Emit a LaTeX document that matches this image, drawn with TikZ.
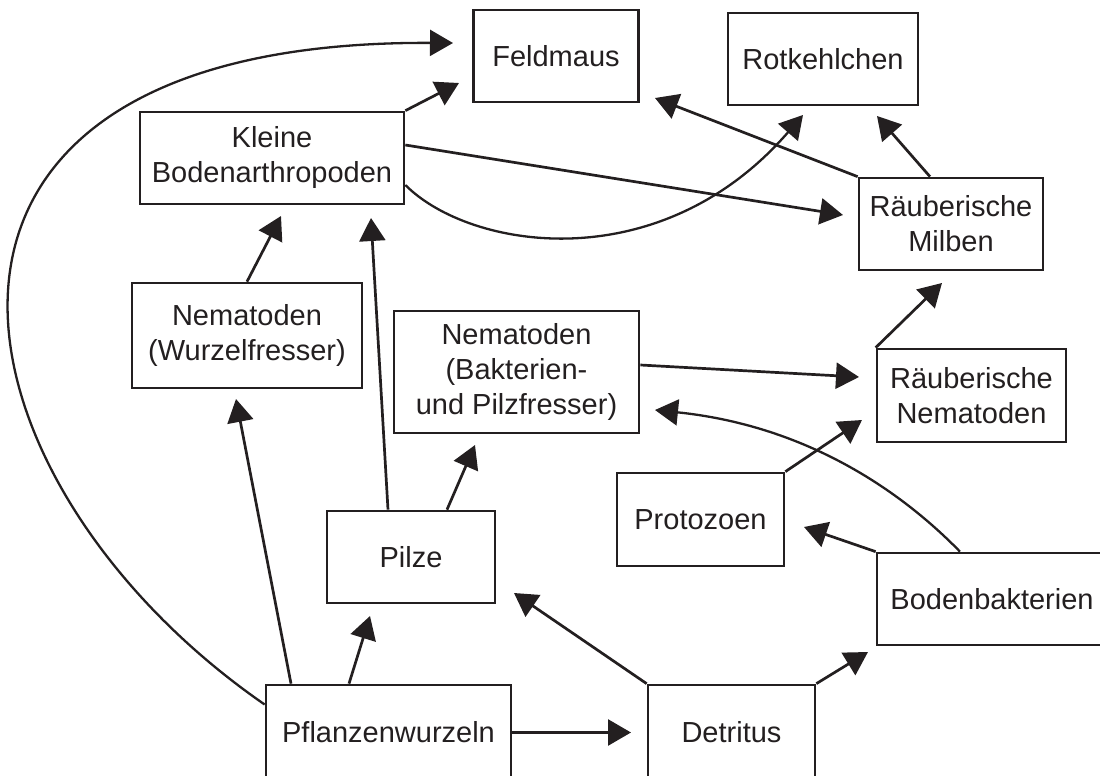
\documentclass[tikz,border=0pt]{standalone}
\usepackage{fontspec}
\setmainfont{Liberation Sans}
\usetikzlibrary{arrows.meta}
\definecolor{ink}{HTML}{231F20}

\begin{document}
\begin{tikzpicture}[x=0.5pt, y=-0.5pt, line width=1.35pt, color=ink,
		taxon/.style={draw, align=center, inner sep=0pt, font=\fontsize{14.5}{17.5}\selectfont},
		feeds/.style={-{Triangle[length=11.5pt, width=13pt]}}]
		% Picture area
		\useasboundingbox (0,0) rectangle (1100,776);
		\clip (0,0) rectangle (1100,776);
		
		% Boxes
		\node[taxon, minimum width=82.5pt, minimum height=46pt] (FM) at (556,56) {Feldmaus};
		\node[taxon, minimum width=95pt, minimum height=46pt] (RK) at (823,59) {Rotkehlchen};
		\node[taxon, minimum width=132pt, minimum height=46pt] (KB) at (272,158) {Kleine\\Bodenarthropoden};
		\node[taxon, minimum width=92pt, minimum height=46pt] (RM) at (951,224) {Räuberische\\Milben};
		\node[taxon, minimum width=115pt, minimum height=52.5pt] (NW) at (247,335.5) {Nematoden\\(Wurzelfresser)};
		\node[taxon, minimum width=122.5pt, minimum height=61pt] (NB) at (516.5,372) {Nematoden\\(Bakterien-\\und Pilzfresser)};
		\node[taxon, minimum width=94.5pt, minimum height=46.5pt] (RN) at (971.5,395.5) {Räuberische\\Nematoden};
		\node[taxon, minimum width=83.5pt, minimum height=46.5pt] (PZ) at (700.5,519.5) {Protozoen};
		\node[taxon, minimum width=84pt, minimum height=46pt] (PI) at (411,557) {Pilze};
		\node[taxon, minimum width=115pt, minimum height=46pt] (BB) at (992,599) {Bodenbakterien};
		\node[taxon, minimum width=122.5pt, minimum height=47.5pt] (PW) at (388.5,732.5) {Pflanzenwurzeln};
		\node[taxon, minimum width=83.5pt, minimum height=47.5pt] (DE) at (731.5,732.5) {Detritus};
		
		% Arrow tips
		\coordinate (T_PW-FM) at (453,43);
		\coordinate (T_KB-FM) at (459,83);
		\coordinate (T_KB-RM) at (843,215);
		\coordinate (T_KB-RK) at (803,115);
		\coordinate (T_RM-FM) at (655,98);
		\coordinate (T_RM-RK) at (877,116);
		\coordinate (T_RN-RM) at (942,283);
		\coordinate (T_NB-RN) at (859,377);
		\coordinate (T_BB-NB) at (655,410);
		\coordinate (T_PZ-RN) at (862,420);
		\coordinate (T_BB-PZ) at (804,527);
		\coordinate (T_DE-BB) at (868,652);
		\coordinate (T_DE-PI) at (514,593);
		\coordinate (T_PW-DE) at (631,732.5);
		\coordinate (T_PW-PI) at (370,616);
		\coordinate (T_PW-NW) at (236,399);
		\coordinate (T_PI-KB) at (371,218);
		\coordinate (T_PI-NB) at (475,445);
		\coordinate (T_NW-KB) at (281,216);
		
		% From the roots and the detritus
		\draw[feeds, line width=1.15pt] ([yshift=14pt]PW.west) .. controls (-60,480) and (-150,40) .. (T_PW-FM);
		\draw[feeds] (PW.east) -- (T_PW-DE);
		\draw[feeds] ([xshift=-19.75pt]PW.north) -- (T_PW-PI);
		\draw[feeds] ([xshift=-48.75pt]PW.north) -- (T_PW-NW);
		\draw[feeds] (DE.north west) -- (T_DE-PI);
		\draw[feeds] (DE.north east) -- (T_DE-BB);
		
		% Microbes
		\draw[feeds] (BB.north west) -- (T_BB-PZ);
		\draw[feeds, line width=1.15pt] ([xshift=-16pt]BB.north) .. controls (895,485) and (800,425) .. (T_BB-NB);
		\draw[feeds] ([xshift=-11.5pt]PI.north) -- (T_PI-KB);
		\draw[feeds] ([xshift=18pt]PI.north) -- (T_PI-NB);
		
		% Grazers and predators
		\draw[feeds] (PZ.north east) -- (T_PZ-RN);
		\draw[feeds] ([yshift=3.5pt]NB.east) -- (T_NB-RN);
		\draw[feeds] (NW.north) -- (T_NW-KB);
		\draw[feeds] (RN.north west) -- (T_RN-RM);
		\draw[feeds] (KB.north east) -- (T_KB-FM);
		\draw[feeds] ([yshift=6.5pt]KB.east) -- (T_KB-RM);
		\draw[feeds, line width=1.15pt] ([yshift=-13.5pt]KB.east) .. controls (470,250) and (660,280) .. (T_KB-RK);
		\draw[feeds] (RM.north west) -- (T_RM-FM);
		\draw[feeds] ([xshift=-10.5pt]RM.north) -- (T_RM-RK);
\end{tikzpicture}
\end{document}
